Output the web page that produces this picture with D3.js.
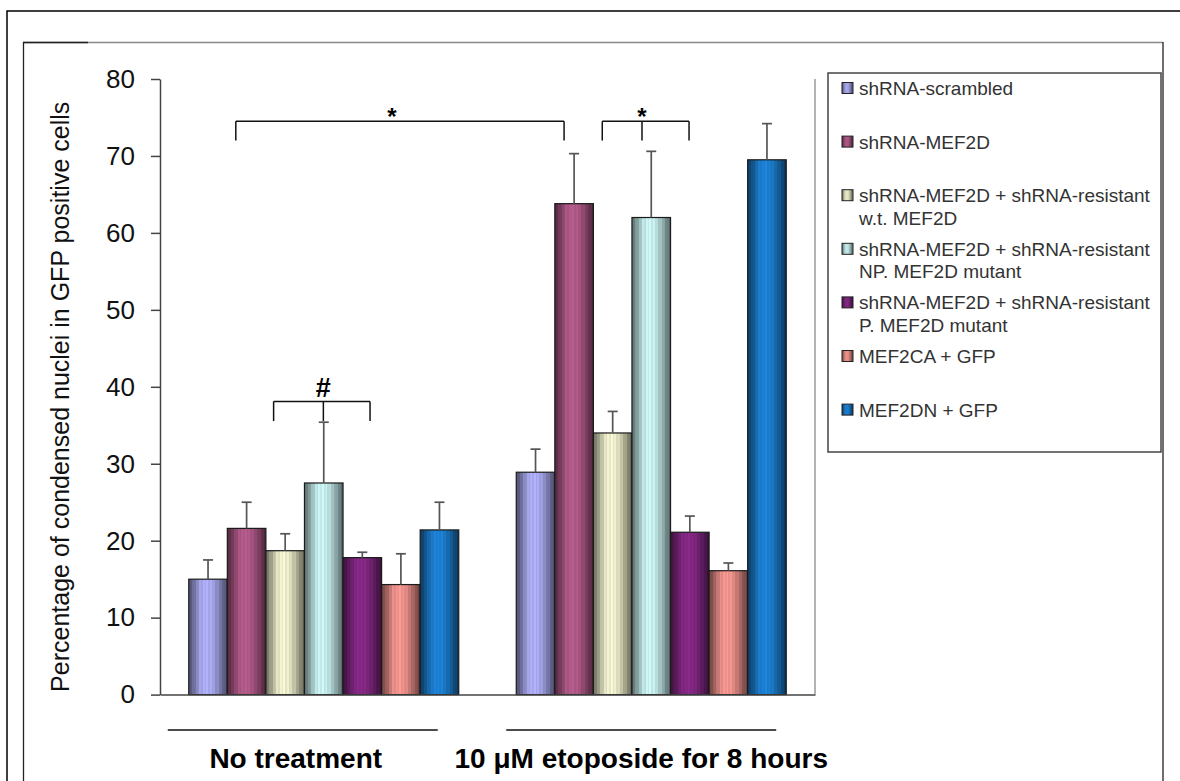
<!DOCTYPE html>
<html>
<head>
<meta charset="utf-8">
<script src="https://cdn.jsdelivr.net/npm/d3@7"></script>
<style>
  html, body { margin: 0; padding: 0; background: #fff; }
  svg { display: block; font-family: Arial, "Liberation Sans", sans-serif; }
</style>
</head>
<body>
<div id="chart"></div>
<script>
// ---- data ----
const groups = ["No treatment", "10 \u03BCM etoposide for 8 hours"];
const seriesNames = [
  "shRNA-scrambled",
  "shRNA-MEF2D",
  "shRNA-MEF2D + shRNA-resistant w.t. MEF2D",
  "shRNA-MEF2D + shRNA-resistant NP. MEF2D mutant",
  "shRNA-MEF2D + shRNA-resistant P. MEF2D mutant",
  "MEF2CA + GFP",
  "MEF2DN + GFP"
];
const legendLines = [
  ["shRNA-scrambled"],
  ["shRNA-MEF2D"],
  ["shRNA-MEF2D + shRNA-resistant", "w.t. MEF2D"],
  ["shRNA-MEF2D + shRNA-resistant", "NP. MEF2D mutant"],
  ["shRNA-MEF2D + shRNA-resistant", "P. MEF2D mutant"],
  ["MEF2CA + GFP"],
  ["MEF2DN + GFP"]
];
const noTreatment    = [15.0, 21.6, 18.7, 27.5, 17.8, 14.3, 21.4];
const noTreatmentErr = [2.5, 3.4, 2.2, 7.9, 0.7, 4.0, 3.6];
const etoposide      = [28.9, 63.8, 34.0, 62.0, 21.1, 16.1, 69.5];
const etoposideErr   = [3.0, 6.5, 2.8, 8.6, 2.1, 1.0, 4.7];
const yTicks = [0, 10, 20, 30, 40, 50, 60, 70, 80];
const yTitle = "Percentage of condensed nuclei in GFP positive cells";

// significance marks: bar positions in bar units inside a group, heights in data units
const brackets = [
  { mark: "*", legs: [[0, 1.22], [1, 1.24]], top: 74.5, foot: 72.0 },
  { mark: "*", legs: [[1, 2.23], [1, 3.26], [1, 4.48]], top: 74.5, foot: 72.0 },
  { mark: "#", legs: [[0, 2.2], [0, 3.49], [0, 4.7]], top: 38.1, foot: 35.55 }
];

const colors = ["#b4b4ff", "#ba5e90", "#fbfbd8", "#d2fcfc", "#8c2a8c", "#ff9c96", "#1e88e0"];

// ---- layout ----
const width = 1180, height = 781;
const plot = { left: 160, right: 815, top: 79, bottom: 694.6 };
const labelShift = [-21, -10];

const svg = d3.select('#chart')
  .append('svg')
  .attr('width', width)
  .attr('height', height);

const defs = svg.append('defs');

// frames
svg.append('rect')
  .attr('x', 7).attr('y', 11).attr('width', 1200).attr('height', 800)
  .attr('fill', 'none').attr('stroke', '#000').attr('stroke-width', 1.5);
svg.append('line').attr('x1', 23).attr('x2', 1163).attr('y1', 42.5).attr('y2', 42.5)
  .attr('stroke', '#888').attr('stroke-width', 1.3);
svg.append('line').attr('x1', 23).attr('x2', 88).attr('y1', 42.5).attr('y2', 42.5)
  .attr('stroke', '#222').attr('stroke-width', 1.3);
svg.append('line').attr('x1', 23.5).attr('x2', 23.5).attr('y1', 42).attr('y2', 800)
  .attr('stroke', '#222').attr('stroke-width', 1.3);
svg.append('line').attr('x1', 1163).attr('x2', 1163).attr('y1', 42).attr('y2', 800)
  .attr('stroke', '#222').attr('stroke-width', 1.3);

// scales
const y = d3.scaleLinear().domain([0, 80]).range([plot.bottom, plot.top]);
const x0 = d3.scaleBand().domain(groups)
  .range([plot.left, plot.right])
  .paddingInner(0.1756)
  .paddingOuter(0.0878);
const x1 = d3.scaleBand().domain(d3.range(seriesNames.length))
  .range([0, x0.bandwidth()]);

const table = [];
groups.forEach((g, gi) => {
  const vals = gi === 0 ? noTreatment : etoposide;
  const errs = gi === 0 ? noTreatmentErr : etoposideErr;
  vals.forEach((v, si) => table.push({ group: g, s: si, value: v, err: errs[si] }));
});

// striped cylinder-like gradients
const profile = [[0, 0.45], [0.12, 0.62], [0.3, 0.93], [0.45, 1], [0.6, 0.95], [0.78, 0.74], [0.92, 0.52], [1, 0.42]];
const kAt = d3.scaleLinear().domain(profile.map(p => p[0])).range(profile.map(p => p[1]));
colors.forEach((c, i) => {
  const grad = defs.append('linearGradient')
    .attr('id', 'grad' + i)
    .attr('x1', 0).attr('x2', 1).attr('y1', 0).attr('y2', 0);
  const n = 22;
  for (let j = 0; j < n; j++) {
    const t0 = j / n, t1 = (j + 1) / n;
    const k = kAt((t0 + t1) / 2) * (j % 2 ? 0.93 : 1);
    const col = d3.interpolateRgb('#000', c)(k);
    grad.append('stop').attr('offset', t0).attr('stop-color', col);
    grad.append('stop').attr('offset', t1).attr('stop-color', col);
  }
});

// bars
svg.append('g')
  .selectAll('rect')
  .data(table)
  .join('rect')
  .attr('x', d => x0(d.group) + x1(d.s))
  .attr('y', d => y(d.value))
  .attr('width', x1.bandwidth())
  .attr('height', d => y(0) - y(d.value))
  .attr('fill', d => `url(#grad${d.s})`)
  .attr('stroke', '#1a1a1a')
  .attr('stroke-width', 1.2);

// error bars (upper only)
const eb = svg.append('g').attr('stroke', '#555').attr('stroke-width', 1.7);
table.forEach(d => {
  const cx = x0(d.group) + x1(d.s) + x1.bandwidth() / 2;
  eb.append('line').attr('x1', cx).attr('x2', cx)
    .attr('y1', y(d.value)).attr('y2', y(d.value + d.err));
  eb.append('line').attr('x1', cx - 5).attr('x2', cx + 5)
    .attr('y1', y(d.value + d.err)).attr('y2', y(d.value + d.err));
});

// axes
const gY = svg.append('g')
  .attr('transform', `translate(${plot.left},0)`)
  .call(d3.axisLeft(y).tickValues(yTicks).tickSize(9).tickSizeOuter(0).tickPadding(16));
gY.select('.domain').attr('stroke', '#444').attr('stroke-width', 1.5);
gY.selectAll('.tick line').attr('stroke', '#444').attr('stroke-width', 1.5);
gY.selectAll('.tick text')
  .attr('font-size', 26)
  .attr('font-family', 'Arial, "Liberation Sans", sans-serif')
  .attr('fill', '#111');

const gX = svg.append('g')
  .attr('transform', `translate(0,${plot.bottom})`)
  .call(d3.axisBottom(x0).tickSize(0).tickSizeOuter(0).tickFormat(''));
gX.select('.domain').attr('stroke', '#444').attr('stroke-width', 1.5);

svg.append('line')
  .attr('x1', plot.right).attr('x2', plot.right)
  .attr('y1', plot.top).attr('y2', plot.bottom)
  .attr('stroke', '#666').attr('stroke-width', 1);

// y title
svg.append('text')
  .attr('transform', `translate(69,${(plot.top + plot.bottom) / 2 + 10}) rotate(-90)`)
  .attr('text-anchor', 'middle')
  .attr('font-size', 25)
  .attr('fill', '#111')
  .text(yTitle);

// significance brackets
const legX = l => x0(groups[l[0]]) + l[1] * x1.step();
brackets.forEach(b => {
  const xs = b.legs.map(legX);
  const g = svg.append('g').attr('stroke', '#111').attr('stroke-width', 1.5).attr('fill', 'none');
  g.append('line').attr('x1', xs[0]).attr('x2', xs[xs.length - 1])
    .attr('y1', y(b.top)).attr('y2', y(b.top));
  xs.forEach(x => g.append('line').attr('x1', x).attr('x2', x)
    .attr('y1', y(b.top)).attr('y2', y(b.foot)));
  const mx = xs.length === 3 ? xs[1] : (xs[0] + xs[1]) / 2 - 8;
  svg.append('text')
    .attr('x', mx)
    .attr('y', b.mark === '#' ? y(b.top) - 4 : y(b.top) + 4)
    .attr('text-anchor', 'middle')
    .attr('font-weight', 'bold')
    .attr('font-size', b.mark === '#' ? 27 : 24)
    .attr('fill', '#000')
    .text(b.mark);
});

// group labels below the axis
groups.forEach((g, gi) => {
  const cx = x0(g) + x0.bandwidth() / 2 + labelShift[gi];
  svg.append('line')
    .attr('x1', cx - x0.bandwidth() / 2).attr('x2', cx + x0.bandwidth() / 2)
    .attr('y1', 730).attr('y2', 730)
    .attr('stroke', '#111').attr('stroke-width', 1.5);
  svg.append('text')
    .attr('x', cx + (gi === 0 ? -7 : 0))
    .attr('y', 768)
    .attr('text-anchor', 'middle')
    .attr('font-weight', 'bold')
    .attr('font-size', 28)
    .attr('fill', '#000')
    .text(g);
});

// legend
const legend = svg.append('g');
legend.append('rect')
  .attr('x', 828).attr('y', 73).attr('width', 333).attr('height', 379)
  .attr('fill', '#fff').attr('stroke', '#444').attr('stroke-width', 1.5);
const items = legend.selectAll('g.item')
  .data(legendLines)
  .join('g')
  .attr('class', 'item')
  .attr('transform', (d, i) => `translate(842,${88 + i * 53.6})`);
items.append('rect')
  .attr('x', 0).attr('y', -5.5).attr('width', 11).attr('height', 11)
  .attr('fill', (d, i) => `url(#grad${i})`)
  .attr('stroke', '#222').attr('stroke-width', 1);
items.each(function (lines) {
  const t = d3.select(this).append('text')
    .attr('x', 17)
    .attr('y', 7)
    .attr('font-size', 19)
    .attr('fill', '#333');
  lines.forEach((ln, k) => t.append('tspan').attr('x', 17).attr('dy', k === 0 ? 0 : 22.5).text(ln));
});
</script>
</body>
</html>
